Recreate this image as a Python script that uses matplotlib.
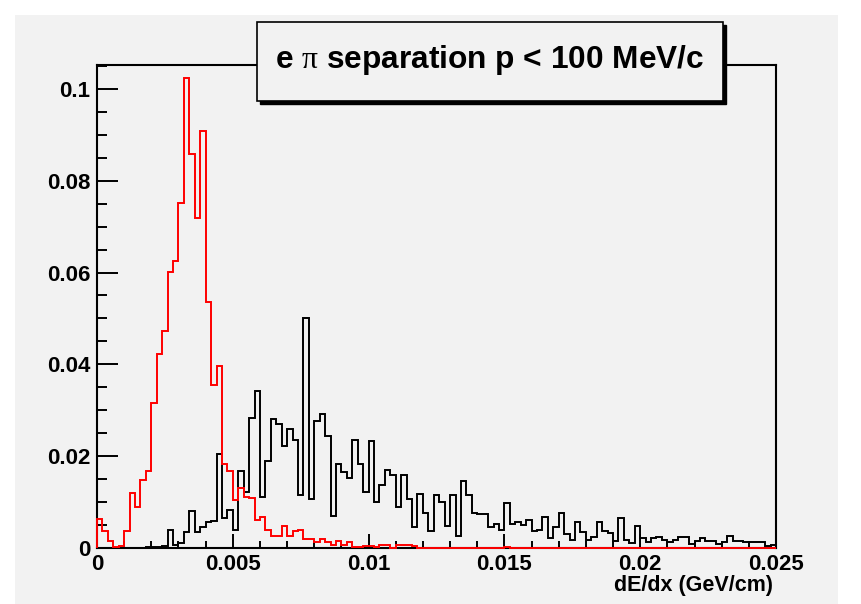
import matplotlib
matplotlib.use("Agg")
import matplotlib.pyplot as plt
import numpy as np
from matplotlib.patches import Rectangle
from matplotlib.ticker import MultipleLocator, FuncFormatter

plt.rcParams["font.family"] = ["Liberation Sans", "DejaVu Sans"]
plt.rcParams["mathtext.fontset"] = "custom"
plt.rcParams["mathtext.rm"] = "Liberation Serif"

# 125 bins of 0.0002 GeV/cm between 0 and 0.025
x_min = 0.0
x_max = 0.025
n_bins = 125

# electrons (red)
electron_counts = [
    0.0063, 0.0036, 0.0016, 0.0002, 0.0004, 0.0038, 0.0120, 0.0089, 0.0149, 0.0168,
    0.0316, 0.0423, 0.0472, 0.0601, 0.0625, 0.0752, 0.1023, 0.0858, 0.0718, 0.0908,
    0.0536, 0.0355, 0.0396, 0.0182, 0.0167, 0.0105, 0.0130, 0.0112, 0.0108, 0.0062,
    0.0067, 0.0039, 0.0026, 0.0026, 0.0048, 0.0026, 0.0038, 0.0040, 0.0019, 0.0019,
    0.0014, 0.0019, 0.0014, 0.0007, 0.0016, 0.0007, 0.0012, 0.0003, 0.0002, 0.0005,
    0.0004, 0.0003, 0.0006, 0.0006, 0.0000, 0.0006, 0.0006, 0.0006, 0.0004, 0.0000,
    0.0000, 0.0000, 0.0000, 0.0000, 0.0000, 0.0000, 0.0000, 0.0000, 0.0000, 0.0000,
    0.0000, 0.0000, 0.0000, 0.0000, 0.0000, 0.0003, 0.0000, 0.0000, 0.0000, 0.0000,
] + [0.0] * 45

# pions (black)
pion_counts = [
    0.0000, 0.0000, 0.0000, 0.0000, 0.0000, 0.0000, 0.0000, 0.0000, 0.0000, 0.0002,
    0.0003, 0.0003, 0.0004, 0.0040, 0.0007, 0.0011, 0.0034, 0.0080, 0.0035, 0.0046,
    0.0057, 0.0058, 0.0204, 0.0065, 0.0082, 0.0039, 0.0168, 0.0121, 0.0283, 0.0343,
    0.0110, 0.0190, 0.0282, 0.0270, 0.0223, 0.0260, 0.0235, 0.0115, 0.0500, 0.0106,
    0.0277, 0.0292, 0.0243, 0.0070, 0.0184, 0.0166, 0.0152, 0.0235, 0.0183, 0.0121,
    0.0233, 0.0100, 0.0137, 0.0170, 0.0159, 0.0090, 0.0158, 0.0107, 0.0046, 0.0118,
    0.0076, 0.0036, 0.0115, 0.0101, 0.0049, 0.0115, 0.0026, 0.0147, 0.0115, 0.0076,
    0.0073, 0.0073, 0.0046, 0.0052, 0.0040, 0.0099, 0.0052, 0.0056, 0.0050, 0.0060,
    0.0038, 0.0039, 0.0067, 0.0021, 0.0046, 0.0077, 0.0031, 0.0017, 0.0057, 0.0034,
    0.0017, 0.0024, 0.0057, 0.0036, 0.0032, 0.0015, 0.0065, 0.0018, 0.0010, 0.0049,
    0.0022, 0.0013, 0.0021, 0.0023, 0.0017, 0.0014, 0.0018, 0.0024, 0.0024, 0.0008,
    0.0016, 0.0021, 0.0016, 0.0016, 0.0009, 0.0014, 0.0026, 0.0016, 0.0016, 0.0012,
    0.0012, 0.0012, 0.0012, 0.0004, 0.0007,
]

title_text = r"e $\mathrm{\pi}$ separation p < 100 MeV/c"
x_label = "dE/dx (GeV/cm)"

edges = np.linspace(x_min, x_max, n_bins + 1)

W, H = 861, 604
fig = plt.figure(figsize=(W / 100, H / 100), dpi=100, facecolor="white")

# grey canvas pad behind everything
fig.add_artist(Rectangle((15 / W, 0), 823 / W, 589 / H, transform=fig.transFigure,
                         facecolor="#f2f2f2", edgecolor="none", zorder=-10))

ax = fig.add_axes([97 / W, (H - 548) / H, 679 / W, 483 / H])
ax.set_facecolor("#f2f2f2")

ax.stairs(pion_counts, edges, color="black", linewidth=1.4, baseline=0,
          zorder=3, clip_on=False)
ax.stairs(electron_counts, edges, color="red", linewidth=1.4, baseline=0,
          zorder=4, clip_on=False)

ax.set_xlim(x_min, x_max)
ax.set_ylim(0, 0.1052)

for s in ax.spines.values():
    s.set_linewidth(1.5)

fmt = FuncFormatter(lambda v, p: "%g" % round(v, 6))
ax.xaxis.set_major_locator(MultipleLocator(0.005))
ax.xaxis.set_minor_locator(MultipleLocator(0.001))
ax.yaxis.set_major_locator(MultipleLocator(0.02))
ax.yaxis.set_minor_locator(MultipleLocator(0.005))
ax.xaxis.set_major_formatter(fmt)
ax.yaxis.set_major_formatter(fmt)

ax.tick_params(axis="x", which="major", direction="in", length=10, width=1.4,
               labelsize=16, pad=4)
ax.tick_params(axis="x", which="minor", direction="in", length=5, width=1.4)
ax.tick_params(axis="y", which="major", direction="in", length=15, width=1.4,
               labelsize=16, pad=5)
ax.tick_params(axis="y", which="minor", direction="in", length=7.5, width=1.4)
for lab in ax.get_xticklabels() + ax.get_yticklabels():
    lab.set_fontweight("bold")

fig.text(773 / W, 1 - 585 / H, x_label, ha="right", va="center",
         fontsize=15.5, fontweight="bold")

# title box with drop shadow
bx, by, bw, bh = 257, 22, 466, 79
fig.add_artist(Rectangle(((bx + 3) / W, 1 - (by + bh + 3) / H), bw / W, bh / H,
                         transform=fig.transFigure, facecolor="black",
                         edgecolor="black", linewidth=1.0, zorder=5))
fig.add_artist(Rectangle((bx / W, 1 - (by + bh) / H), bw / W, bh / H,
                         transform=fig.transFigure, facecolor="#f2f2f2",
                         edgecolor="black", linewidth=1.2, zorder=6))
fig.text((bx + bw / 2) / W, 1 - 60 / H, title_text, ha="center", va="center",
         fontsize=22.8, fontweight="bold", zorder=7)

fig.savefig("out.png", dpi=100, facecolor="white")
